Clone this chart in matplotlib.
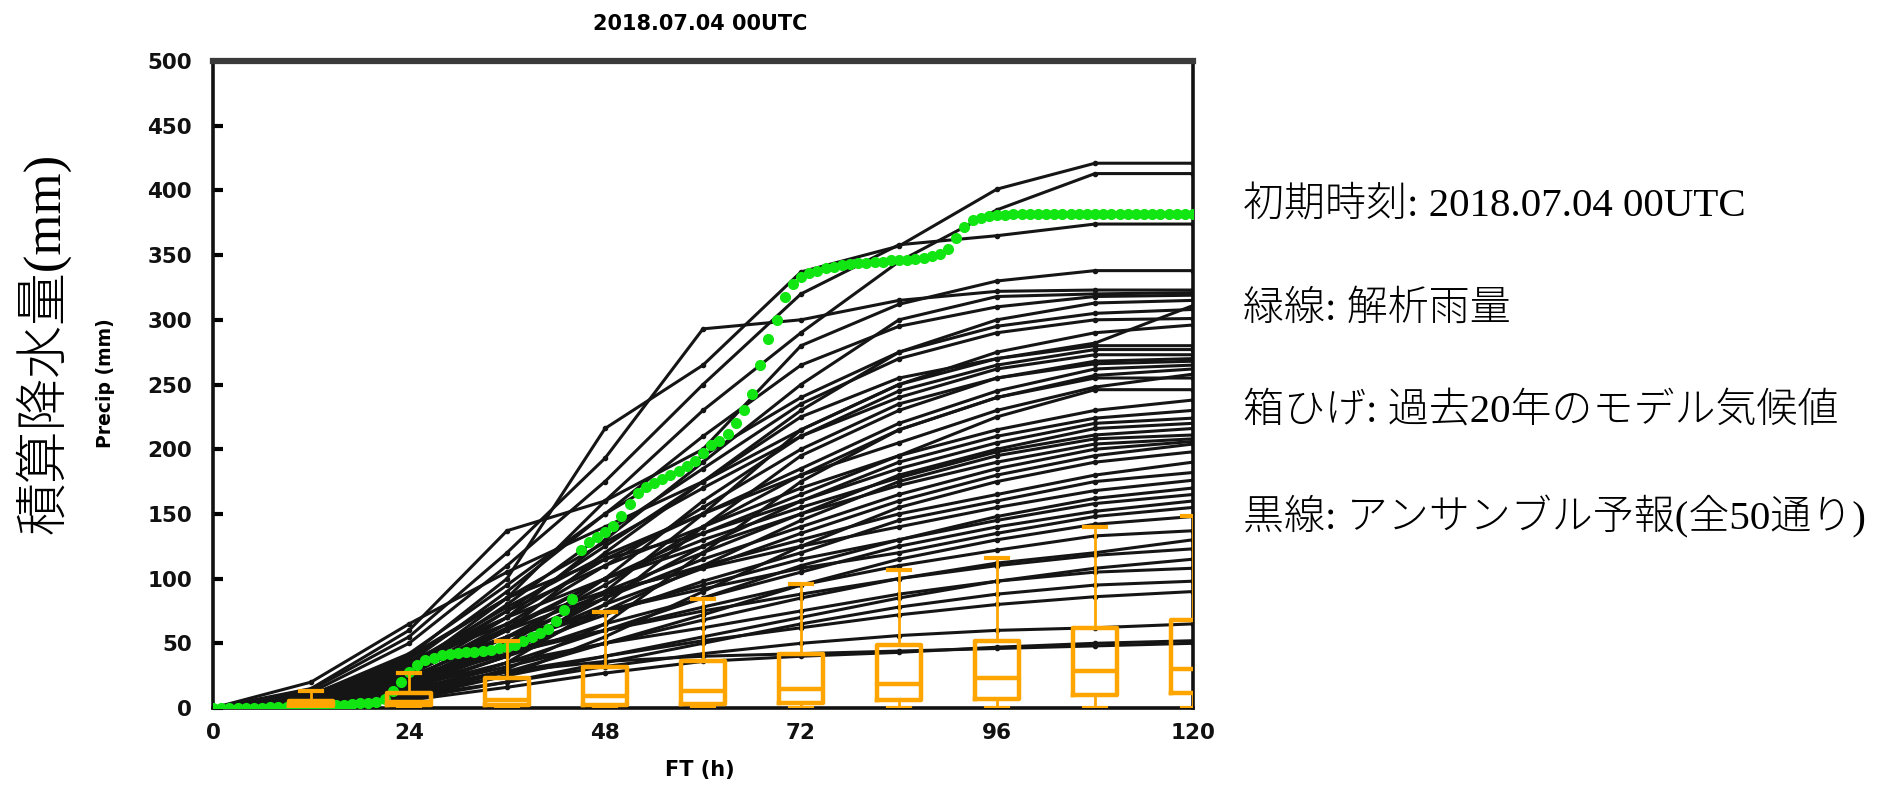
import numpy as np
import matplotlib.pyplot as plt

# forecast hours of the ensemble members
hours = [0, 12, 24, 36, 48, 60, 72, 84, 96, 108, 120]

# accumulated precipitation of the 50 members (mm)
members = [
    [0, 10, 40, 100, 216, 265, 337, 357, 401, 421, 421],
    [0, 6, 30, 85, 160, 230, 290, 345, 385, 413, 413],
    [0, 12, 50, 110, 175, 250, 320, 358, 365, 374, 374],
    [0, 15, 60, 137, 160, 200, 280, 312, 330, 338, 338],
    [0, 14, 55, 120, 193, 293, 300, 315, 322, 323, 323],
    [0, 5, 25, 70, 130, 190, 250, 300, 318, 320, 321],
    [0, 8, 35, 90, 150, 210, 265, 295, 310, 318, 319],
    [0, 4, 22, 60, 120, 175, 230, 275, 300, 313, 315],
    [0, 2, 15, 40, 90, 150, 215, 250, 270, 282, 311],
    [0, 10, 42, 95, 150, 195, 240, 275, 295, 305, 308],
    [0, 7, 30, 80, 135, 185, 235, 270, 290, 300, 301],
    [0, 20, 65, 105, 140, 175, 215, 250, 275, 290, 296],
    [0, 6, 28, 75, 125, 175, 225, 255, 270, 280, 280],
    [0, 3, 18, 50, 100, 160, 210, 245, 265, 277, 277],
    [0, 9, 38, 85, 128, 170, 210, 240, 262, 273, 273],
    [0, 5, 25, 65, 110, 155, 200, 235, 255, 268, 270],
    [0, 2, 12, 35, 80, 140, 195, 230, 255, 266, 268],
    [0, 6, 30, 70, 115, 150, 185, 220, 245, 262, 265],
    [0, 4, 20, 55, 95, 140, 180, 215, 240, 257, 262],
    [0, 8, 34, 78, 118, 150, 180, 205, 230, 248, 258],
    [0, 1, 10, 30, 65, 120, 175, 215, 240, 255, 255],
    [0, 5, 22, 60, 100, 135, 165, 195, 225, 246, 246],
    [0, 7, 32, 75, 110, 140, 170, 195, 215, 230, 238],
    [0, 3, 15, 45, 85, 125, 160, 190, 210, 224, 230],
    [0, 10, 40, 85, 115, 135, 160, 185, 205, 220, 224],
    [0, 4, 20, 50, 90, 120, 150, 180, 200, 216, 220],
    [0, 6, 26, 62, 100, 130, 155, 178, 198, 211, 216],
    [0, 2, 14, 40, 75, 110, 145, 175, 195, 208, 211],
    [0, 8, 36, 70, 100, 125, 150, 172, 190, 204, 208],
    [0, 5, 24, 55, 85, 115, 140, 165, 185, 200, 206],
    [0, 3, 17, 48, 80, 108, 135, 160, 180, 195, 204],
    [0, 1, 8, 25, 55, 90, 125, 155, 175, 190, 198],
    [0, 6, 28, 60, 88, 110, 130, 150, 165, 180, 190],
    [0, 4, 18, 45, 72, 98, 120, 145, 160, 175, 182],
    [0, 9, 35, 65, 90, 108, 125, 140, 155, 168, 176],
    [0, 2, 12, 35, 60, 85, 110, 130, 148, 162, 170],
    [0, 5, 22, 50, 75, 95, 115, 130, 145, 158, 165],
    [0, 3, 16, 40, 65, 85, 105, 125, 140, 152, 160],
    [0, 7, 30, 55, 75, 92, 108, 120, 135, 148, 155],
    [0, 2, 10, 28, 50, 72, 95, 115, 130, 142, 148],
    [0, 5, 20, 42, 60, 78, 95, 110, 122, 133, 137],
    [0, 3, 14, 32, 50, 68, 85, 100, 112, 120, 130],
    [0, 6, 24, 45, 60, 75, 88, 100, 110, 118, 123],
    [0, 2, 10, 25, 40, 55, 70, 85, 98, 108, 115],
    [0, 4, 16, 35, 50, 62, 75, 88, 98, 105, 108],
    [0, 1, 7, 20, 35, 50, 65, 78, 88, 95, 98],
    [0, 3, 12, 28, 40, 52, 62, 72, 80, 86, 90],
    [0, 2, 9, 20, 32, 42, 50, 56, 60, 62, 65],
    [0, 1, 6, 16, 27, 36, 40, 43, 47, 50, 52],
    [0, 4, 15, 28, 36, 40, 42, 44, 46, 48, 50],
]

# analysed rainfall, hourly (mm)
obs_hours = list(range(121))
obs = [0, 0, 0, 0, 0, 0, 0.3, 0.5, 0.5, 0.8, 1, 1, 1, 1.3, 1.6, 2, 2.5, 3, 3.5, 4.2, 5,
       7, 13, 20, 28, 33, 37, 39, 41, 42, 42.5, 43, 43.5, 44, 45, 46, 47, 49, 52, 55, 58,
       61, 67, 76, 84, 122, 128, 132, 136, 141, 148, 158, 166, 171, 174, 177, 180, 183, 187, 191, 197,
       203, 206, 212, 220, 230, 243, 265, 285, 300, 318, 328, 333, 336, 338, 340, 341, 342, 343, 344, 344,
       345, 345, 346, 346, 346, 347, 348, 349, 351, 355, 363, 372, 377, 379, 380, 381, 381, 381.5, 382, 382,
       382, 382, 382, 382, 382, 382, 382, 382, 382, 382, 382, 382, 382, 382, 382, 382, 382, 382, 382, 382]

# model climatology box plots
box_x = [12, 24, 36, 48, 60, 72, 84, 96, 108, 120]
box_lo = [0, 0, 0, 0, 0, 0, 0, 0, 0, 0]
box_q1 = [1.5, 2, 2.3, 2.3, 3, 3.8, 6, 6.7, 10, 11.3]
box_med = [3, 5, 6, 9, 13, 15, 18.5, 23, 28.5, 30.5]
box_q3 = [5.5, 11.5, 23, 32, 36, 42, 48.5, 52, 62, 67.7]
box_hi = [13.5, 27, 52, 74, 84, 96, 107, 116, 139.5, 148.5]

orange = '#ffa500'
green = '#12e612'

fig = plt.figure(figsize=(19.01, 7.87), dpi=100)
ax = fig.add_axes([213 / 1901, 1 - 708 / 787, 980 / 1901, 647 / 787])

for m in members:
    ax.plot(hours, m, color='#151515', lw=2.2, marker='o', ms=3, zorder=2)

ax.plot(obs_hours, obs, ls='none', marker='o', ms=7, color=green, mec=green, zorder=3)

stats = []
for i in range(len(box_x)):
    stats.append(dict(whislo=box_lo[i], q1=box_q1[i], med=box_med[i],
                      q3=box_q3[i], whishi=box_hi[i]))
ax.bxp(stats, positions=box_x, widths=5.5, capwidths=2.6, showfliers=False,
       boxprops=dict(color=orange, lw=3.2),
       medianprops=dict(color=orange, lw=3.2),
       whiskerprops=dict(color=orange, lw=2),
       capprops=dict(color=orange, lw=3), manage_ticks=False, zorder=4)

ax.set_xlim(0, 120)
ax.set_ylim(0, 500)
ax.set_xticks([0, 24, 48, 72, 96, 120])
ax.set_yticks(range(0, 501, 50))
ax.tick_params(axis='x', length=0, pad=11, labelsize=15.5)
ax.tick_params(axis='y', direction='in', length=7, width=3, pad=15, labelsize=15.5)
for i, t in enumerate(ax.yaxis.get_major_ticks()):
    if i % 2 == 0 and i > 0:
        t.tick1line.set_color('#888888')
for lab in ax.get_xticklabels() + ax.get_yticklabels():
    lab.set_fontweight('bold')
    lab.set_color('#111111')

for s in ['left', 'bottom', 'right']:
    ax.spines[s].set_linewidth(2.6)
    ax.spines[s].set_color('#111111')
ax.spines['top'].set_linewidth(4.5)
ax.spines['top'].set_color('#3a3a3a')

fig.text(700 / 1901, 1 - 24 / 787, '2018.07.04 00UTC', ha='center', va='center',
         fontsize=15, fontweight='bold')
fig.text(700 / 1901, 1 - 770 / 787, 'FT (h)', ha='center', va='center',
         fontsize=15, fontweight='bold')
fig.text(105 / 1901, 1 - 383 / 787, 'Precip (mm)', ha='center', va='center',
         rotation=90, fontsize=13.5, fontweight='bold')

jp = ['Liberation Serif', 'Noto Sans CJK JP']
fig.text(43 / 1901, 1 - 343 / 787, '積算降水量(mm)', ha='center', va='center',
         rotation=90, fontsize=38, family=jp, fontweight='light')

notes = ['初期時刻: 2018.07.04 00UTC',
         '緑線: 解析雨量',
         '箱ひげ: 過去20年のモデル気候値',
         '黒線: アンサンブル予報(全50通り)']
note_y = [207, 310, 412, 517]
for t, yy in zip(notes, note_y):
    fig.text(1243 / 1901, 1 - yy / 787, t, ha='left', va='center',
             fontsize=29.5, family=jp, fontweight='light')

fig.savefig('out.png', dpi=100)
